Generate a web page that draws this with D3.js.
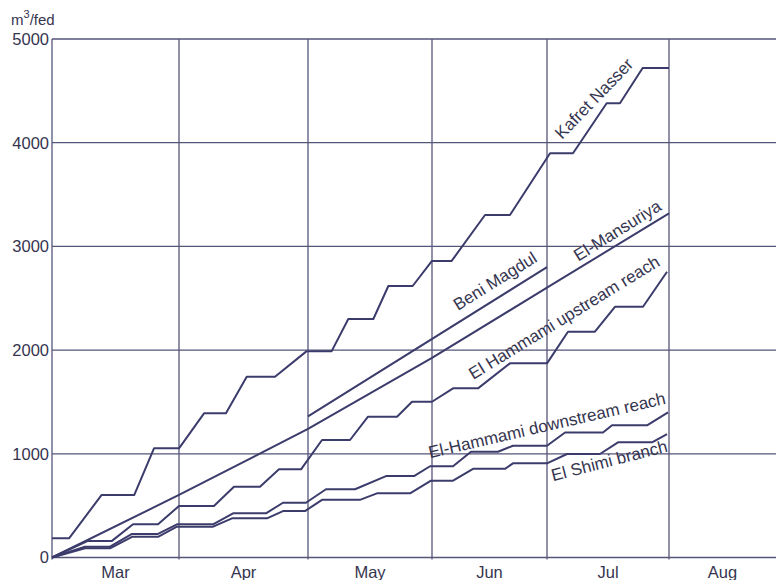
<!DOCTYPE html>
<html>
<head>
<meta charset="utf-8">
<script src="https://cdn.jsdelivr.net/npm/d3@7"></script>
<style>
  body { margin: 0; background: #fff; }
  svg { display: block; font-family: "Liberation Sans", Arial, sans-serif; }
</style>
</head>
<body>
<main></main>
<script>
// months, x in month units (0 = 1 March)
const months = ["Mar", "Apr", "May", "Jun", "Jul", "Aug"];
const yTicks = [0, 1000, 2000, 3000, 4000, 5000];

// Kafret Nasser
const knX = [0, 0.134, 0.391, 0.648, 0.803, 1.0, 1.194, 1.364, 1.525, 1.744, 1.99, 2.191, 2.325, 2.527,
             2.648, 2.844, 3.0, 3.171, 3.461, 3.678, 4.025, 4.213, 4.489, 4.598, 4.784, 5.0];
const knY = [185, 185, 603, 603, 1053, 1053, 1390, 1390, 1743, 1743, 1990, 1990, 2300, 2300,
             2618, 2618, 2860, 2860, 3303, 3303, 3898, 3898, 4380, 4380, 4720, 4720];

// Beni Magdul
const bmX = [2.0, 4.0];
const bmY = [1360, 2800];

// El-Mansuriya
const emX = [0, 1, 2, 3, 4, 5];
const emY = [0, 603, 1240, 1925, 2602, 3319];

// El Hammami upstream reach
const huX = [0, 0.283, 0.472, 0.638, 0.835, 1.0, 1.271, 1.426, 1.628, 1.775, 1.946, 2.113, 2.339, 2.484,
             2.718, 2.839, 3.0, 3.183, 3.4, 3.678, 4.0, 4.172, 4.393, 4.557, 4.787, 4.984];
const huY = [0, 160, 160, 320, 320, 497, 497, 683, 683, 850, 850, 1133, 1133, 1358,
             1358, 1502, 1502, 1631, 1631, 1872, 1872, 2177, 2177, 2418, 2418, 2756];

// El-Hammami downstream reach
const hdX = [0, 0.26, 0.457, 0.63, 0.835, 0.984, 1.264, 1.419, 1.674, 1.806, 1.984, 2.145, 2.379, 2.629,
             2.855, 2.984, 3.183, 3.339, 3.574, 3.704, 4.0, 4.148, 4.459, 4.533, 4.82, 4.992];
const hdY = [0, 104, 104, 227, 227, 320, 320, 426, 426, 528, 528, 658, 658, 785,
             785, 880, 880, 1020, 1020, 1078, 1078, 1205, 1205, 1275, 1275, 1400];

// El Shimi branch
const esX = [0, 0.26, 0.457, 0.63, 0.835, 0.984, 1.264, 1.411, 1.682, 1.806, 1.977, 2.113, 2.419, 2.556,
             2.823, 2.992, 3.183, 3.357, 3.635, 3.704, 4.0, 4.164, 4.434, 4.582, 4.861, 4.984];
const esY = [0, 88, 88, 200, 200, 297, 297, 378, 378, 448, 448, 556, 556, 619,
             619, 741, 741, 855, 855, 908, 908, 998, 998, 1111, 1111, 1190];

// label text, anchor (month, value) and angle
const labelText = ["Kafret Nasser", "Beni Magdul", "El-Mansuriya", "El Hammami upstream reach",
                   "El-Hammami downstream reach", "El Shimi branch"];
const labelX = [4.123, 3.226, 4.257, 3.359, 2.984, 4.05];
const labelY = [4026, 2377, 2852, 1712, 957, 735];
const labelAngle = [-46, -32, -32, -31.5, -13, -14.5];

const series = [[knX, knY], [bmX, bmY], [emX, emY], [huX, huY], [hdX, hdY], [esX, esY]];

const width = 776, height = 580;
const ink = "#3c3c6c";

const svg = d3.select("main").append("svg")
              .attr("width", width)
              .attr("height", height);

svg.append("rect").attr("width", width).attr("height", height).attr("fill", "#fff");

// the scanned grid is not quite even, so map each month boundary
const x = d3.scaleLinear()
            .domain([0, 1, 2, 3, 4, 5, 6])
            .range([52, 179, 308, 432, 547, 669, 776]);

const y = d3.scaleLinear()
            .domain([0, 5000])
            .range([557.5, 39]);

// grid
const grid = svg.append("g").attr("stroke", "#55557a").attr("stroke-width", 1.3);

grid.selectAll("line.h")
    .data(yTicks)
    .enter().append("line")
    .attr("x1", x(0)).attr("x2", width)
    .attr("y1", d => y(d)).attr("y2", d => y(d));

grid.selectAll("line.v")
    .data(d3.range(0, 6))
    .enter().append("line")
    .attr("x1", d => x(d)).attr("x2", d => x(d))
    .attr("y1", y(5000)).attr("y2", y(0) + 2);

// y tick labels
svg.append("g").selectAll("text")
   .data(yTicks)
   .enter().append("text")
   .attr("x", 49)
   .attr("y", d => y(d))
   .attr("dy", "0.36em")
   .attr("text-anchor", "end")
   .attr("font-size", 16.5)
   .attr("fill", "#35354f")
   .text(d => d);

// month labels
svg.append("g").selectAll("text")
   .data(months)
   .enter().append("text")
   .attr("x", (d, i) => x(i + 0.5))
   .attr("y", 578)
   .attr("text-anchor", "middle")
   .attr("font-size", 16.5)
   .attr("fill", "#35354f")
   .text(d => d);

// unit
const unit = svg.append("text").attr("x", 11).attr("y", 25)
                .attr("font-size", 15).attr("fill", "#35354f");
unit.append("tspan").text("m");
unit.append("tspan").attr("dy", -7).attr("font-size", 11).text("3");
unit.append("tspan").attr("dy", 7).text("/fed");

// series lines
const line = d3.line()
               .x(d => x(d[0]))
               .y(d => y(d[1]));

svg.append("g").selectAll("path")
   .data(series.map(s => d3.zip(s[0], s[1])))
   .enter().append("path")
   .attr("d", line)
   .attr("fill", "none")
   .attr("stroke", ink)
   .attr("stroke-width", 2)
   .attr("stroke-linejoin", "round");

// line labels
svg.append("g").selectAll("text")
   .data(labelText)
   .enter().append("text")
   .attr("transform", (d, i) => `translate(${x(labelX[i])},${y(labelY[i])}) rotate(${labelAngle[i]})`)
   .attr("font-size", 17)
   .attr("fill", "#35354f")
   .text(d => d);
</script>
</body>
</html>
